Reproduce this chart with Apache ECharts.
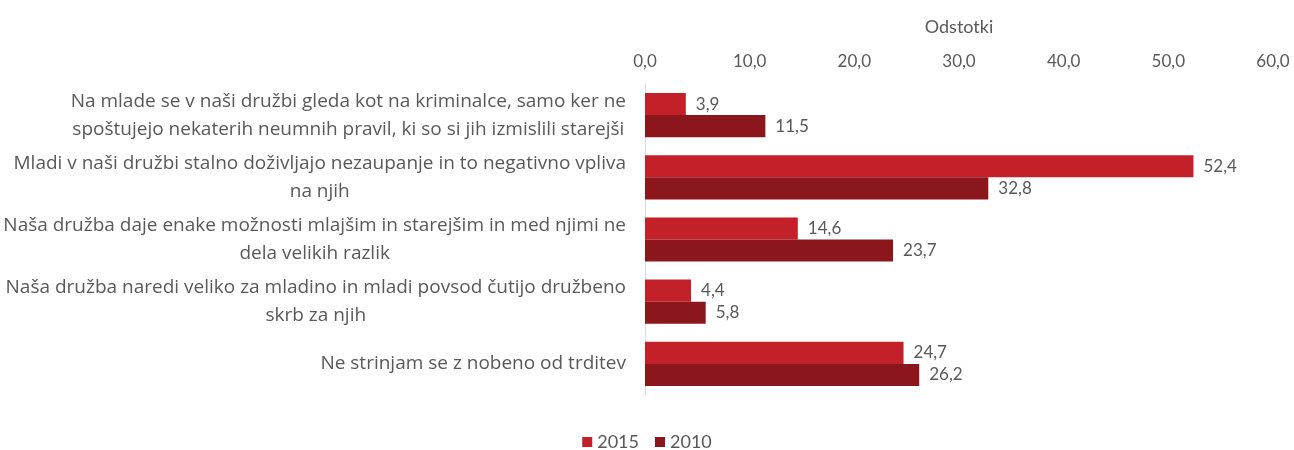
<!DOCTYPE html>
<html>
<head>
<meta charset="utf-8">
<script src="https://cdn.jsdelivr.net/npm/echarts@6/dist/echarts.min.js"></script>
<style>
  html, body { margin: 0; padding: 0; background: #fff; }
  #chart { width: 1294px; height: 450px; }
</style>
</head>
<body>
<div id="chart"></div>
<script>
// trditve (kategorije), vrstni red od zgoraj navzdol
const categories = [
  'Na mlade se v naši družbi gleda kot na kriminalce, samo ker ne\nspoštujejo nekaterih neumnih pravil, ki so si jih izmislili starejši',
  'Mladi v naši družbi stalno doživljajo nezaupanje in to negativno vpliva\nna njih',
  'Naša družba daje enake možnosti mlajšim in starejšim in med njimi ne\ndela velikih razlik',
  'Naša družba naredi veliko za mladino in mladi povsod čutijo družbeno\nskrb za njih',
  'Ne strinjam se z nobeno od trditev'
]
const values2015 = [3.9, 52.4, 14.6, 4.4, 24.7]
const values2010 = [11.5, 32.8, 23.7, 5.8, 26.2]
const seriesNames = ['2015', '2010']

const chart = echarts.init(document.getElementById('chart'))
const fmt = (v) => v.toFixed(1).replace('.', ',')
const font = 'Lato'
const catFont = 'Open Sans'

chart.setOption({
  animation: false,
  textStyle: { fontFamily: font },
  legend: {
    top: 428,
    left: 'center',
    itemWidth: 10,
    itemHeight: 10,
    itemGap: 16,
    icon: 'rect',
    textStyle: { color: '#595959', fontSize: 18, fontFamily: font },
    data: seriesNames
  },
  grid: { left: 645, right: 21, top: 84, bottom: 55, containLabel: false },
  xAxis: {
    type: 'value',
    position: 'top',
    min: 0,
    max: 60,
    interval: 10,
    name: 'Odstotki',
    nameLocation: 'middle',
    nameGap: 48,
    nameTextStyle: { color: '#595959', fontSize: 18, fontFamily: font },
    axisLine: { show: false },
    axisTick: { show: false },
    splitLine: { show: false },
    axisLabel: {
      color: '#595959',
      fontSize: 17,
      fontFamily: font,
      margin: 14,
      formatter: (v) => fmt(v)
    }
  },
  yAxis: {
    type: 'category',
    inverse: true,
    data: categories,
    axisLine: { show: true, lineStyle: { color: '#d9d9d9' } },
    axisTick: { show: false },
    axisLabel: {
      color: '#595959',
      fontSize: 19,
      fontFamily: catFont,
      margin: 19,
      lineHeight: 28,
      align: 'right',
      formatter: (v) => v.split('\n').map(s => '{c|' + s + '}').join('\n'),
      rich: { c: { align: 'center', color: '#595959', fontSize: 19, fontFamily: catFont, lineHeight: 28 } }
    }
  },
  series: [
    {
      name: seriesNames[0],
      type: 'bar',
      data: values2015,
      barGap: '0%',
      barCategoryGap: '29%',
      itemStyle: { color: '#C4202A' },
      label: { show: true, position: 'right', distance: 10, color: '#595959', fontSize: 17, fontFamily: font, formatter: (p) => fmt(p.value) }
    },
    {
      name: seriesNames[1],
      type: 'bar',
      data: values2010,
      barGap: '0%',
      barCategoryGap: '29%',
      itemStyle: { color: '#8B171C' },
      label: { show: true, position: 'right', distance: 10, color: '#595959', fontSize: 17, fontFamily: font, formatter: (p) => fmt(p.value) }
    }
  ]
})
</script>
</body>
</html>
